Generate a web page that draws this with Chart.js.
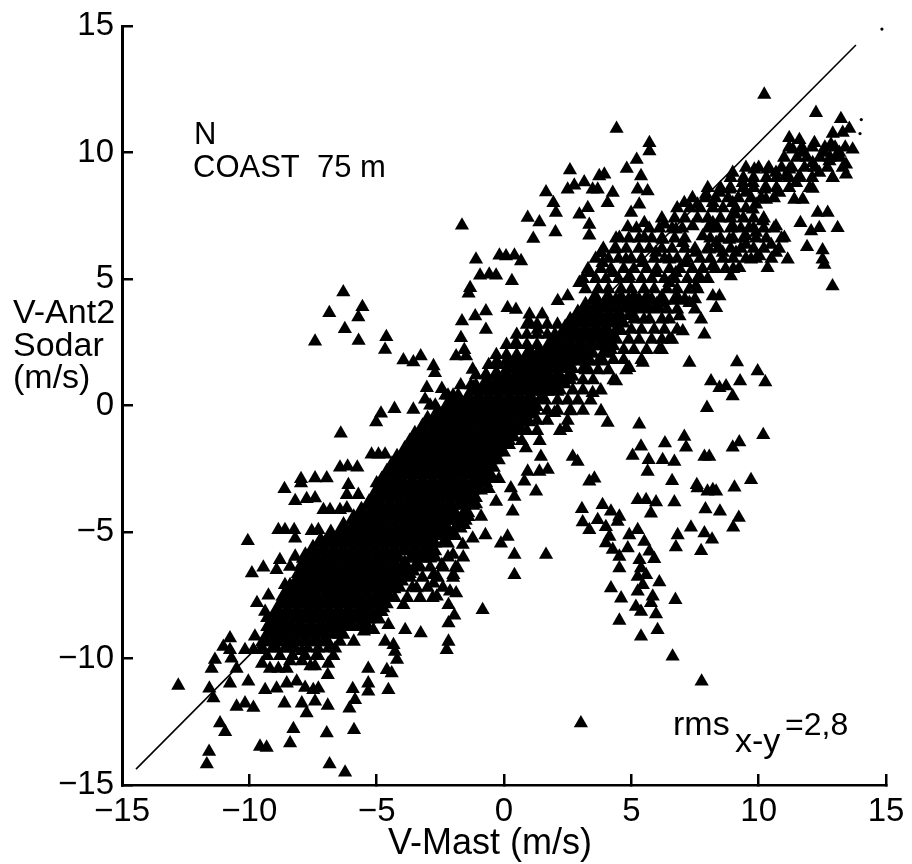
<!DOCTYPE html>
<html>
<head>
<meta charset="utf-8">
<title>V-Ant2 Sodar vs V-Mast</title>
<style>
body { margin: 0; background: #fff; }
canvas { display: block; }
</style>
<script src="https://cdn.jsdelivr.net/npm/chart.js@4/dist/chart.umd.min.js"></script>
</head>
<body>
<canvas id="scatter" width="912" height="864"></canvas>
<script>
// all values, in m/s [v-mast, v-sodar]
var upperLeft = [[-6.31,4.48],[-6.86,3.66],[-5.56,3.90],[-5.72,3.49],[-6.25,3.03],[-5.71,2.56],[-7.42,2.53],[-4.62,2.71],[-4.67,2.21],[-3.95,1.79],[-3.56,1.71],[-3.27,1.95],[-2.77,1.56],[-2.71,1.29],[-3.03,0.70],[-2.44,0.66],[-3.10,0.24],[-3.56,-0.16],[-4.30,-0.13],[-4.83,-0.31],[-5.02,-0.66]];

var lowerLeft = [[-6.41,-1.10],[-3.56,-1.49],[-5.2,-1.93],[-4.93,-1.93],[-4.67,-1.93],[-6.44,-2.45],[-6.14,-2.41],[-5.76,-2.45],[-7.97,-2.9],[-7.97,-3.07],[-7.42,-2.87],[-6.96,-2.87],[-8.62,-3.3],[-6.11,-3.14],[-5.0,-3.07],[-8.2,-3.77],[-7.75,-3.69],[-7.42,-3.66],[-6.17,-3.53],[-5.72,-3.53],[-7.09,-4.13],[-6.83,-4.13],[-6.44,-4.13],[-6.17,-4.06],[-8.86,-4.92],[-8.6,-4.92],[-8.24,-4.92],[-8.2,-5.25],[-7.55,-4.96],[-7.29,-4.92],[-10.06,-5.35],[-8.2,-5.97],[-8.8,-6.1],[-8.93,-6.5],[-8.4,-6.37],[-8.6,-7.09],[-9.45,-6.4],[-9.9,-6.63],[-9.25,-7.51],[-9.7,-7.8],[-9.38,-8.15],[-9.3,-8.4],[-9.78,-9.13],[-10.76,-9.2],[-11.02,-9.53],[-10.76,-9.66],[-10.17,-9.66],[-9.84,-9.66],[-9.45,-9.66],[-10.7,-10.0],[-11.35,-10.05],[-11.48,-10.4],[-10.5,-10.4],[-9.5,-10.2],[-9.19,-10.4],[-8.86,-10.4],[-8.53,-10.4],[-8.4,-10.1],[-7.94,-10.1],[-7.6,-10.3],[-7.42,-10.3],[-6.9,-10.2],[-6.92,-10.65],[-8.93,-9.6],[-8.4,-9.6],[-7.94,-9.7],[-7.35,-9.86],[-6.63,-9.6],[-6.44,-9.33],[-5.9,-9.33],[-5.5,-8.93],[-5.13,-8.87],[-4.67,-9.33],[-4.34,-9.46],[-4.28,-9.73],[-4.2,-10.05],[-4.54,-8.67],[-3.88,-8.87],[-3.27,-9.0],[-2.18,-9.33],[-2.25,-9.66],[-5.33,-10.4],[-5.33,-10.98],[-5.33,-11.3],[-4.54,-11.24],[-4.41,-10.58],[-4.6,-10.45],[-5.94,-11.2],[-5.85,-11.64],[-6.07,-11.97],[-5.89,-12.82],[-6.92,-11.86],[-6.96,-12.95],[-6.85,-14.18],[-6.24,-14.5],[-8.27,-12.78],[-8.4,-13.35],[-9.32,-13.52],[-9.58,-13.48],[-8.62,-11.77],[-7.94,-11.77],[-7.75,-12.16],[-7.42,-11.7],[-7.29,-11.18],[-7.49,-11.24],[-7.81,-11.15],[-8.14,-10.91],[-8.53,-10.98],[-8.93,-11.18],[-9.38,-11.24],[-10.04,-10.91],[-10.76,-10.98],[-11.57,-11.18],[-11.41,-11.57],[-12.79,-11.07],[-10.5,-11.9],[-10.17,-11.77],[-9.84,-11.94],[-11.15,-12.56],[-10.95,-12.9],[-11.58,-13.68],[-11.67,-14.18],[-2.77,-7.03],[-3.43,-7.22],[-3.95,-7.88],[-2.64,-7.55],[-2.18,-7.88],[-2.18,-8.6],[-2.9,-6.04],[-2.44,-6.3],[-2,-5.9],[-3.56,-6.56],[-2.77,-6.7],[-1.99,-6.7],[-2.12,-7.35],[-4.41,-7.09],[-4.74,-8.01],[-5.39,-8.67]];

var lowerRight = [[6.32,-1.49],[7.08,-1.23],[7.15,-1.66],[5.38,-1.62],[5.05,-1.98],[5.68,-2.15],[6.23,-2.15],[6.69,-2.22],[7.87,-2.02],[8.06,-2.02],[9.24,-1.45],[8.98,-1.66],[10.18,-1.16],[5.64,-2.61],[6.6,-2.98],[7.57,-3.14],[7.6,-3.27],[8.2,-3.34],[8.33,-3.4],[7.99,-3.4],[9.05,-3.24],[9.7,-2.94],[5.25,-3.73],[5.58,-3.73],[5.97,-3.82],[6.69,-3.82],[5.77,-4.26],[7.91,-4.1],[8.48,-4.19],[9.22,-4.43],[9.0,-4.82],[7.34,-4.82],[7.87,-5.05],[8.17,-5.29],[6.82,-5.12],[6.75,-5.6],[7.74,-5.75],[3.06,-4.09],[3.09,-4.61],[3.87,-3.93],[3.35,-4.92],[3.68,-4.52],[4.2,-4.19],[4.46,-4.59],[4.53,-4.39],[4.0,-4.8],[4.0,-5.44],[4.27,-5.7],[4.53,-5.97],[4.53,-6.43],[4.14,-5.18],[4.86,-5.64],[4.92,-5.12],[5.25,-4.92],[5.51,-5.38],[5.71,-5.77],[5.9,-6.06],[5.32,-6.1],[5.38,-6.43],[5.58,-6.7],[5.25,-6.76],[6.1,-6.98],[5.25,-7.35],[5.45,-7.09],[4.2,-7.22],[4.6,-7.62],[5.84,-7.55],[6.73,-7.68],[5.77,-7.8],[5.18,-7.95],[5.38,-8.15],[5.97,-8.25],[4.53,-8.5],[6.03,-8.87],[5.38,-9.13],[6.62,-9.92],[7.76,-10.91],[3.02,-12.56],[2.7,-2.02],[2.89,-2.22],[3.35,-3.0],[3.55,-2.88],[1.45,-2.02],[1.72,-2.54],[0.93,-2.61],[1.26,-3.4],[0.41,-3.6],[0.34,-4.19],[0.14,-5.18],[-0.12,-5.45],[0.41,-5.9],[1.65,-5.9],[0.41,-6.7],[-0.84,-8.08],[-0.73,-5.12],[-1.23,-5.25],[-1.62,-5.5],[-1.82,-6.43],[-1.88,-7.42],[-1.95,-8.3],[0.86,-1.69],[0.27,-3.27],[-0.31,-3.8],[-0.9,-4.39],[-1.56,-4.72],[0.8,-3.0],[1.39,-2.61]];

var upperRight = [[10.22,12.29],[12.25,11.57],[13.23,11.33],[13.56,10.94],[12.91,10.75],[13.3,10.78],[4.42,10.94],[5.71,10.38],[5.71,10.05],[5.21,9.72],[4.82,9.36],[2.59,9.3],[1.65,8.43],[5.38,9.07],[5.25,8.54],[5.64,8.47],[4.99,7.62],[5.31,7.95],[3.94,9.13],[3.74,9.07],[3.15,8.83],[2.76,8.7],[2.5,8.54],[3.48,8.54],[3.68,8.54],[4.27,8.41],[4.07,8.01],[3.29,7.81],[2.96,7.55],[3.35,7.15],[3.35,6.72],[1.94,8.01],[2.04,7.62],[0.93,7.42],[1.39,7.25],[2.02,6.85],[1.15,6.59],[5.51,7.22],[4.86,7.05],[-1.65,7.12],[-1.1,5.77],[-0.18,5.93],[0.08,5.9],[0.41,5.93],[0.67,5.71],[-0.94,5.14],[-0.58,5.18],[-0.31,5.14],[0.31,4.92],[-1.33,4.65],[-1.39,4.43],[0.14,3.86],[0.47,3.79],[-0.71,3.73],[-1.13,3.53],[-1.65,3.33],[-0.71,3.0],[-1.69,2.67],[-1.56,2.2],[-1.49,1.95],[-1.88,1.95],[-1.23,1.42],[-0.31,1.69],[0.08,1.75],[-0.71,1.23],[0.47,2.48],[1.0,3.27],[1.32,3.0],[2.11,4.13],[2.5,4.32],[3.81,6.03],[4.33,6.17],[4.53,6.63],[3.35,5.24],[2.96,4.85],[5.51,6.63],[6.3,7.16],[7.08,8.01],[7.93,8.34],[7.6,7.95],[8.98,9.2],[9.83,9.33],[10.35,9.33],[11.2,10.58],[11.6,10.5],[12.19,10.38],[12.84,10.32],[13.17,9.99],[13.69,10.12],[13.43,9.53],[13.43,9.13],[12.78,9.66],[12.91,9.0],[12.12,8.57],[11.73,8.14],[11.4,8.14],[10.81,8.41],[10.29,8.14],[9.77,7.75],[9.9,7.95],[9.05,7.55],[12.32,7.62],[12.71,7.62],[11.64,7.22],[13.1,7.02],[12.06,6.89],[12.38,7.02],[11.9,6.27],[12.51,6.14],[12.51,5.77],[12.58,5.57],[12.9,4.72],[9.15,1.71],[9.96,1.36],[9.27,0.96],[10.26,0.92],[8.13,0.96],[8.46,0.7],[8.72,0.76],[8.98,0.37],[7.97,-0.09]];

var speckledBand = [[10.68,7.09],[11.01,6.63],[11.14,5.77],[10.35,5.44],[9.7,5.77],[9.24,5.44],[8.91,5.11],[10.16,7.29],[9.63,7.02],[8.98,7.09],[8.33,7.09],[8.2,7.22],[9.05,7.62],[9.9,6.83],[10.49,6.36],[9.5,6.36],[8.85,6.56],[8.59,6.04],[8.06,6.17],[7.54,6.04],[7.8,6.69],[7.02,6.43],[6.23,6.56],[6.75,6.96],[7.41,7.09],[8.33,6.43],[9.11,6.04],[10.03,5.9],[10.68,6.04],[8.2,5.51],[7.67,5.11],[7.15,5.64],[6.49,5.77],[5.97,5.24],[5.45,5.64],[4.79,5.77],[4.27,5.24],[4.92,5.11],[6.49,4.85],[7.28,4.59],[7.54,4.72],[8.2,4.32],[8.46,4.32],[8.33,3.86],[6.49,3.4],[6.89,3.53],[7.74,3.4],[7.02,2.94],[7.87,2.81],[6.49,2.61],[6.1,2.21],[5.45,1.69],[7.28,1.69],[4.92,1.49],[4.4,0.96],[3.48,0.5],[3.81,-0.22],[4.07,-0.68],[2.63,-0.22],[1.98,-0.29],[2.44,-0.89],[5.31,-0.75],[5.71,3.4],[6.23,4.06],[7.28,4.06],[5.05,4.19],[3.87,5.64],[5.97,6.04],[6.75,5.24],[9.5,6.69],[11.34,10.12],[11.73,9.99],[11.2,9.33],[12.12,9.59],[12.38,9.2],[11.07,9.07],[12.58,9.99],[10.68,9.2],[11.47,8.8],[10.22,8.54],[9.77,8.8],[9.37,8.8],[8.85,8.54],[8.46,8.41],[8.2,8.01],[8.98,8.01],[9.5,8.41],[13.04,9.86],[11.6,9.07]];

// the solid black cloud, estimated row by row
var coreRowY = [-9.3,-9.0,-8.7,-8.4,-8.1,-7.8,-7.5,-7.2,-6.9,-6.6,-6.3,-6.0,-5.7,-5.4,-5.1,-4.8,-4.5,-4.2,-3.9,-3.6,-3.3,-3.0,-2.7,-2.4,-2.1,-1.8,-1.5,-1.2,-0.9,-0.6,-0.3,0,0.3,0.6,0.9,1.2,1.5,1.8,2.1,2.4,2.7,3.0,3.3,3.6,3.9,4.2];
var coreRowX = [
	[-9.4,-9.0,-8.6,-8.2,-7.8,-7.4,-7.0],
	[-9.2,-8.8,-8.4,-8.0,-7.6,-7.2,-6.8,-6.4],
	[-9.2,-8.8,-8.4,-8.0,-7.6,-7.2,-6.8,-6.4,-6.0,-5.6],
	[-9.0,-8.6,-8.2,-7.8,-7.4,-7.0,-6.6,-6.2,-5.8,-5.4,-5.0],
	[-8.9,-8.5,-8.1,-7.7,-7.3,-6.9,-6.5,-6.1,-5.7,-5.3,-4.9],
	[-8.7,-8.3,-7.9,-7.5,-7.1,-6.7,-6.3,-5.9,-5.5,-5.1,-4.7],
	[-8.6,-8.2,-7.8,-7.4,-7.0,-6.6,-6.2,-5.8,-5.4,-5.0,-4.6],
	[-8.4,-8.0,-7.6,-7.2,-6.8,-6.4,-6.0,-5.6,-5.2,-4.8,-4.4],
	[-8.1,-7.7,-7.3,-6.9,-6.5,-6.1,-5.7,-5.3,-4.9,-4.5,-4.1],
	[-8.0,-7.6,-7.2,-6.8,-6.4,-6.0,-5.6,-5.2,-4.8,-4.4,-4.0,-3.8],
	[-7.9,-7.5,-7.1,-6.7,-6.3,-5.9,-5.5,-5.1,-4.7,-4.3,-3.9,-3.4],
	[-7.8,-7.4,-7.0,-6.6,-6.2,-5.8,-5.4,-5.0,-4.6,-4.2,-3.6,-3.2],
	[-7.5,-7.1,-6.7,-6.3,-5.9,-5.5,-5.1,-4.7,-4.3,-3.9,-3.5,-3.1,-2.8],
	[-7.2,-6.8,-6.4,-6.0,-5.6,-5.2,-4.8,-4.4,-4.0,-3.6,-3.2,-2.8,-2.3],
	[-6.8,-6.4,-6.0,-5.6,-5.2,-4.8,-4.4,-4.0,-3.6,-3.2,-2.8,-2.4,-2.0],
	[-6.3,-5.9,-5.5,-5.1,-4.7,-4.3,-3.9,-3.5,-3.1,-2.7,-2.3,-1.8],
	[-5.9,-5.5,-5.1,-4.7,-4.3,-3.9,-3.5,-3.1,-2.7,-2.3,-1.9,-1.6],
	[-5.6,-5.2,-4.8,-4.4,-4.0,-3.6,-3.2,-2.8,-2.4,-2.0,-1.5],
	[-5.3,-4.9,-4.5,-4.1,-3.7,-3.3,-2.9,-2.5,-2.1,-1.7,-1.3],
	[-5.1,-4.7,-4.3,-3.9,-3.5,-3.1,-2.7,-2.3,-1.9,-1.5,-1.2],
	[-4.9,-4.5,-4.1,-3.7,-3.3,-2.9,-2.5,-2.1,-1.7,-1.3,-1.0],
	[-4.8,-4.4,-4.0,-3.6,-3.2,-2.8,-2.4,-2.0,-1.6,-1.2,-0.8],
	[-4.6,-4.2,-3.8,-3.4,-3.0,-2.6,-2.2,-1.8,-1.4,-1.0,-0.6],
	[-4.4,-4.0,-3.6,-3.2,-2.8,-2.4,-2.0,-1.6,-1.2,-0.8,-0.5],
	[-4.2,-3.8,-3.4,-3.0,-2.6,-2.2,-1.8,-1.4,-1.0,-0.6,-0.3],
	[-3.9,-3.5,-3.1,-2.7,-2.3,-1.9,-1.5,-1.1,-0.7,-0.4,-0.1],
	[-3.7,-3.3,-2.9,-2.5,-2.1,-1.7,-1.3,-0.9,-0.5,-0.2,0.1],
	[-3.5,-3.1,-2.7,-2.3,-1.9,-1.5,-1.1,-0.7,-0.3,0.0,0.3],
	[-3.2,-2.8,-2.4,-2.0,-1.6,-1.2,-0.8,-0.4,0.0,0.3,0.6],
	[-3.0,-2.6,-2.2,-1.8,-1.4,-1.0,-0.6,-0.2,0.2,0.6,0.9],
	[-2.6,-2.2,-1.8,-1.4,-1.0,-0.6,-0.2,0.2,0.6,1.0],
	[-2.2,-1.8,-1.4,-1.0,-0.6,-0.2,0.2,0.6,1.0,1.2],
	[-1.8,-1.4,-1.0,-0.6,-0.2,0.2,0.6,1.0,1.5],
	[-1.2,-0.8,-0.4,0.0,0.4,0.8,1.2,1.6,2.0],
	[-0.7,-0.3,0.1,0.5,0.9,1.3,1.7,2.0,2.3],
	[-0.3,0.1,0.5,0.9,1.3,1.7,2.1,2.6],
	[0.2,0.6,1.0,1.4,1.8,2.2,2.6,3.2],
	[0.5,0.9,1.3,1.7,2.1,2.5,2.9,3.3,3.8],
	[1.0,1.4,1.8,2.2,2.6,3.0,3.4,4.0],
	[1.8,2.2,2.6,3.0,3.4,3.8,4.2],
	[2.0,2.4,2.8,3.2,3.6,4.0,4.3],
	[2.4,2.8,3.2,3.6,4.0,4.5],
	[2.6,3.0,3.4,3.8,4.2,4.6],
	[2.9,3.3,3.7,4.1,4.5,5.0],
	[3.2,3.6,4.0,4.4,4.8,5.2,5.6,6.0],
	[3.6,4.1,4.6,5.1,5.6,6.2,6.8]
];

// crowded parts with white specks left between the triangles
var crowdRowY = [10.2,9.8,9.4,9.0,8.6,8.2,7.8,7.4,7.0,6.6,6.2,5.8,5.4,5.0,4.6,4.2,3.8,3.4,3.0,2.6,2.2,1.8,1.4,1.0,0.6,0.2,-0.2,-0.6,-1.0,-1.4,-2.9,-3.3,-3.9,-4.4,-6.0,-6.4,-6.8,-7.2,-7.6,-9.6,-9.9];
var crowdRowX = [
	[11.2,11.7,12.1,12.6,13.0,13.4],
	[11.0,11.5,11.9,12.4,12.8,13.2],
	[9.5,10.0,10.4,10.9,11.3,11.8,12.2,12.7,13.3],
	[8.9,9.4,9.8,10.3,10.7,11.2,11.6,12.1,12.9],
	[8.0,8.5,8.9,9.4,9.8,10.3,10.7,11.2,12.0],
	[7.4,7.9,8.3,8.8,9.2,9.7,10.1,10.6],
	[6.8,7.3,7.7,8.2,8.6,9.1,9.5],
	[6.2,6.7,7.1,7.6,8.0,8.5,8.9,9.4,9.8,10.2],
	[5.2,5.7,6.1,6.6,7.0,8.0,8.4,8.9,9.3,9.8,10.2,10.6],
	[4.4,4.9,5.3,5.8,6.2,6.7,7.1,8.1,8.5,9.0,9.4,9.9,10.3,10.9],
	[3.9,4.4,4.8,5.3,5.7,6.2,6.6,7.1,7.5,8.0,8.4,8.9,9.3,9.8,10.2,10.8],
	[3.6,4.1,4.5,5.0,5.4,5.9,6.3,6.8,7.2,7.7,8.1,8.6,9.0,9.5,9.9,10.5],
	[3.3,3.8,4.2,4.7,5.1,5.6,6.0,6.5,6.9,7.4,7.8,8.3,8.7,9.0],
	[3.1,3.6,4.0,4.5,4.9,5.4,5.8,6.3,6.7,7.2,7.6,8.0],
	[3.2,3.7,4.1,4.6,5.0,5.5,5.9,6.4,6.8,7.3,7.6],
	[3.5,4.0,4.4,4.9,5.3,5.8,6.2,6.7,7.1,7.5],
	[5.0,5.5,5.9,6.4,6.8,7.5],
	[4.6,5.1,5.5,6.2],
	[4.5,5.0,5.4,5.9,6.3,6.8],
	[4.4,4.9,5.3,5.8,6.2,6.6],
	[4.2,4.7,5.1,5.6,6.2],
	[3.8,4.3,4.7,5.4],
	[3.2,3.7,4.1,4.8],
	[2.6,3.1,3.5,4.3],
	[2.2,2.7,3.1,3.8],
	[1.6,2.1,2.5,2.9,3.4],
	[1.2,1.7,2.1,2.6,3.1],
	[0.8,1.3,1.7,2.5],
	[0.4,0.9,1.3,2.2],
	[0.2,0.7,1.4],
	[-0.5,-0.2],
	[-0.9,-0.6],
	[-1.1],
	[-1.4],
	[-3.2,-2.7,-2.2,-1.6],
	[-3.4,-2.9,-2.4,-1.9],
	[-3.7,-3.2,-2.6,-2.0],
	[-4.1,-3.6,-3.0,-2.4],
	[-4.3,-3.8,-3.3,-2.8],
	[-9.5,-9.1,-8.6,-8.2,-7.7,-7.3,-6.9],
	[-9.3,-8.8,-8.3,-7.8,-7.3,-6.7]
];
var edgeRowY = [3.6,3.2,2.8,2.4,2.0,1.6,1.2,0.8,0.4,0.0];
var edgeRowX = [
	[1.0,1.5],
	[0.9,1.3,1.7,2.1],
	[0.5,0.9,1.3,1.7],
	[0.1,0.5,0.9,1.3],
	[-0.3,0.1,0.5,0.9],
	[-0.6,-0.2,0.2],
	[-1.1,-0.7],
	[-1.7,-1.3,-1.1],
	[-2.3,-2.0,-2.2],
	[-2.7,-2.9]
];

var fitLineX = [-14.45, 13.82];
var fitLineY = [-14.37, 14.25];
var specks = [[14.84,14.88],[14.03,11.3],[13.98,10.75]];

function rowsToPoints(rowY, rowX) {
	var out = [];
	rowY.forEach(function(y, i) {
		rowX[i].forEach(function(x) {
			out.push({x: x, y: y});
		});
	});
	return out;
}

var triangles = rowsToPoints(crowdRowY, crowdRowX).concat(rowsToPoints(edgeRowY, edgeRowX));
[upperLeft, lowerLeft, lowerRight, upperRight, speckledBand].forEach(function(group) {
	group.forEach(function(p) {
		triangles.push({x: p[0], y: p[1]});
	});
});

var textFont = '"Liberation Sans", sans-serif';

// free text of the figure, there is no legend in it
var figureText = {
	id: "figureText",
	afterDraw: function(chart) {
		var ctx = chart.ctx;
		ctx.save();
		ctx.fillStyle = "#000";
		ctx.textAlign = "left";
		ctx.textBaseline = "alphabetic";
		ctx.font = "31px " + textFont;
		ctx.fillText("N", 194, 144);
		ctx.fillText("COAST  75 m", 193, 177);
		ctx.font = "34px " + textFont;
		ctx.fillText("V-Ant2", 13, 323);
		ctx.fillText("Sodar", 13, 356);
		ctx.fillText("(m/s)", 13, 388);
		ctx.fillText("rms", 673, 735);
		ctx.fillText("x-y", 735, 752);
		ctx.font = "32px " + textFont;
		ctx.fillText("=2,8", 785, 735);
		ctx.font = "36px " + textFont;
		ctx.fillText("V-Mast (m/s)", 388, 854);
		ctx.restore();
	}
};

function formatTick(value) {
	return value < 0 ? "\u2212" + Math.abs(value) : "" + value;
}

var ctx = document.getElementById("scatter");
var chart = new Chart(ctx, {
	type: "scatter",
	data: {
		datasets: [
			{
				data: fitLineX.map(function(x, i) { return {x: x, y: fitLineY[i]}; }),
				showLine: true,
				borderColor: "#000",
				borderWidth: 1.6,
				pointRadius: 0
			},
			{
				data: rowsToPoints(coreRowY, coreRowX),
				pointStyle: "triangle",
				pointRadius: 11,
				pointBackgroundColor: "#000",
				pointBorderWidth: 0
			},
			{
				data: triangles,
				pointStyle: "triangle",
				pointRadius: 8.2,
				pointBackgroundColor: "#000",
				pointBorderWidth: 0
			},
			{
				data: specks.map(function(p) { return {x: p[0], y: p[1]}; }),
				pointRadius: 1.6,
				pointBackgroundColor: "#000",
				pointBorderWidth: 0
			}
		]
	},
	options: {
		responsive: false,
		animation: false,
		layout: { padding: { top: 26, right: 26, left: 0, bottom: 0 } },
		plugins: { legend: { display: false }, tooltip: { enabled: false } },
		scales: {
			x: {
				min: -15,
				max: 15,
				afterFit: function(scale) {
					scale.height = 79;
					scale.paddingLeft = 0;
					scale.paddingRight = 0;
				},
				border: { display: true, color: "#000", width: 2.5 },
				grid: { drawOnChartArea: false, color: "#000", lineWidth: 2.5, tickLength: -11 },
				ticks: { stepSize: 5, color: "#000", padding: 18, maxRotation: 0, font: { family: textFont, size: 33 }, callback: formatTick }
			},
			y: {
				min: -15,
				max: 15,
				afterFit: function(scale) {
					scale.width = 122;
					scale.paddingTop = 0;
					scale.paddingBottom = 0;
				},
				border: { display: true, color: "#000", width: 3 },
				grid: { drawOnChartArea: false, color: "#000", lineWidth: 2.5, tickLength: -11 },
				ticks: { stepSize: 5, color: "#000", padding: 19, font: { family: textFont, size: 33 }, callback: formatTick }
			}
		}
	},
	plugins: [figureText]
});
</script>
</body>
</html>
